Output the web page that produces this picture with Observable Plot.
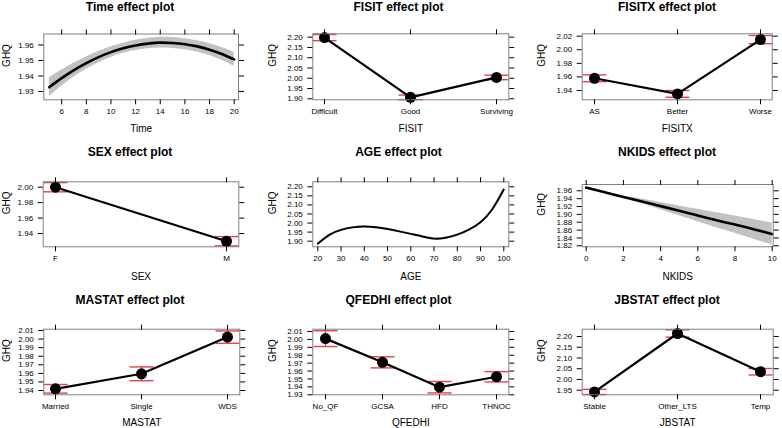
<!DOCTYPE html>
<html><head><meta charset="utf-8">
<script src="https://cdn.jsdelivr.net/npm/d3@7"></script>
<script src="https://cdn.jsdelivr.net/npm/@observablehq/plot@0.6"></script>
<style>
body{margin:0;background:#fff;}
#root{position:relative;width:782px;height:428px;overflow:hidden;font-family:"Liberation Sans",Arial,Helvetica,sans-serif;background:#fff;}
.cell{position:absolute;}
.title{position:absolute;font-weight:bold;font-size:12px;line-height:12px;transform:translateX(-50%);white-space:nowrap;color:#000;}
</style></head><body><div id="root"></div>
<script>
// ---------- data ----------
const timeX     = [5,6,7,8,9,10,11,12,13,14,15,16,17,18,19,20];
const timeFit   = [1.9328,1.9386,1.9438,1.9483,1.9522,1.9554,1.9579,1.9597,1.9609,1.9615,1.9613,1.9605,1.9591,1.9570,1.9542,1.9507];
const timeLower = [1.9268,1.9334,1.9393,1.9443,1.9486,1.9520,1.9546,1.9564,1.9575,1.9580,1.9578,1.9570,1.9555,1.9532,1.9501,1.9462];
const timeUpper = [1.9388,1.9438,1.9483,1.9523,1.9558,1.9588,1.9612,1.9630,1.9643,1.9650,1.9648,1.9640,1.9627,1.9608,1.9583,1.9552];
const timeTicksX = [6,8,10,12,14,16,18,20];
const timeTicksY = [1.93,1.94,1.95,1.96];

const fisitCats  = ["Difficult","Good","Surviving"];
const fisitFit   = [2.198,1.907,2.004];
const fisitLower = [2.183,1.896,1.993];
const fisitUpper = [2.213,1.918,2.015];
const fisitTicksY = [1.90,1.95,2.00,2.05,2.10,2.15,2.20];

const fisitxCats  = ["AS","Better","Worse"];
const fisitxFit   = [1.958,1.935,2.015];
const fisitxLower = [1.953,1.930,2.009];
const fisitxUpper = [1.963,1.940,2.021];
const fisitxTicksY = [1.94,1.96,1.98,2.00,2.02];

const sexCats  = ["F","M"];
const sexFit   = [2.000,1.930];
const sexLower = [1.994,1.924];
const sexUpper = [2.006,1.936];
const sexTicksY = [1.94,1.96,1.98,2.00];

const ageX     = [20,25,30,35,40,45,50,55,60,65,70,75,80,85,90,95,100];
const ageFit   = [1.886,1.935,1.962,1.976,1.981,1.977,1.967,1.954,1.940,1.926,1.914,1.919,1.936,1.964,2.005,2.075,2.185];
const ageLower = [1.880,1.931,1.959,1.973,1.978,1.974,1.964,1.951,1.937,1.923,1.911,1.916,1.933,1.961,2.001,2.068,2.172];
const ageUpper = [1.892,1.939,1.965,1.979,1.984,1.980,1.970,1.957,1.943,1.929,1.917,1.922,1.939,1.967,2.009,2.082,2.198];
const ageTicksX = [20,30,40,50,60,70,80,90,100];
const ageTicksY = [1.90,1.95,2.00,2.05,2.10,2.15,2.20];

const nkidsX     = [0,1,2,3,4,5,6,7,8,9,10];
const nkidsFit   = [1.968,1.956,1.944,1.933,1.921,1.909,1.897,1.885,1.874,1.862,1.850];
const nkidsLower = [1.966,1.954,1.941,1.927,1.912,1.8965,1.881,1.866,1.852,1.837,1.822];
const nkidsUpper = [1.970,1.958,1.947,1.939,1.930,1.9215,1.913,1.904,1.896,1.887,1.878];
const nkidsTicksX = [0,2,4,6,8,10];
const nkidsTicksY = [1.82,1.84,1.86,1.88,1.90,1.92,1.94,1.96];

const mastatCats  = ["Married","Single","WDS"];
const mastatFit   = [1.942,1.9595,2.0023];
const mastatLower = [1.937,1.9515,1.9950];
const mastatUpper = [1.947,1.9675,2.0095];
const mastatTicksY = [1.94,1.95,1.96,1.97,1.98,1.99,2.00,2.01];

const qfedhiCats  = ["No_QF","GCSA","HFD","THNOC"];
const qfedhiFit   = [2.001,1.971,1.9396,1.9528];
const qfedhiLower = [1.991,1.964,1.9324,1.9463];
const qfedhiUpper = [2.011,1.978,1.9468,1.9593];
const qfedhiTicksY = [1.93,1.94,1.95,1.96,1.97,1.98,1.99,2.00,2.01];

const jbstatCats  = ["Stable","Other_LTS","Temp"];
const jbstatFit   = [1.942,2.214,2.036];
const jbstatLower = [1.930,2.197,2.021];
const jbstatUpper = [1.954,2.231,2.051];
const jbstatTicksY = [1.95,2.00,2.05,2.10,2.15,2.20];

// ---------- layout ----------
const RED = "#e3434d";
const FONT = '"Liberation Sans",Arial,Helvetica,sans-serif';
const capSymbol = {draw(ctx){ ctx.moveTo(-12,0); ctx.lineTo(12,0); }};
const f2 = d3.format(".2f");
const blank = () => "";

function numTable(xs, fit, lo, hi){ return xs.map((x,i)=>({x, fit:fit[i], lo:lo[i], hi:hi[i]})); }

function panel(p){
  const [bx,by,W,H] = p.box;
  const [mt,mr,mb,ml] = p.margin;
  const marks = [];
  let xScale;
  if (p.kind === "num") {
    const t = numTable(p.xs, p.fit, p.lo, p.hi);
    xScale = {type:"linear", domain:p.xDomain};
    marks.push(Plot.areaY(t, {x:"x", y1:"lo", y2:"hi", fill:p.bandFill, curve:"natural"}));
    marks.push(Plot.line(t, {x:"x", y:"fit", stroke:"#000", strokeWidth:p.lineWidth || 2.6, curve:"natural"}));
  } else {
    const t = p.cats.map((c,i)=>({x:c, fit:p.fit[i], lo:p.lo[i], hi:p.hi[i]}));
    xScale = {type:"point", domain:p.cats, padding:0, inset:12};
    marks.push(Plot.ruleX(t, {x:"x", y1:"lo", y2:"hi", stroke:RED, strokeWidth:1.3}));
    marks.push(Plot.dot(t, {x:"x", y:"lo", symbol:capSymbol, r:1, stroke:RED, strokeWidth:1.4, fill:"none"}));
    marks.push(Plot.dot(t, {x:"x", y:"hi", symbol:capSymbol, r:1, stroke:RED, strokeWidth:1.4, fill:"none"}));
    marks.push(Plot.line(t, {x:"x", y:"fit", stroke:"#000", strokeWidth:2.2}));
    marks.push(Plot.dot(t, {x:"x", y:"fit", r:5.5, fill:"#000", stroke:"none"}));
  }
  const xt = p.kind === "num" ? p.xTicks : p.cats;
  marks.push(Plot.frame({stroke:"#808080", strokeWidth:1}));
  marks.push(Plot.axisX({ticks:xt, anchor:"bottom", tickSize:5, tickPadding:4, fontSize:8, label:null, stroke:"#000", fill:"#000"}));
  marks.push(Plot.axisX({ticks:xt, anchor:"top", tickSize:5, tickFormat:blank, label:null, stroke:"#000"}));
  marks.push(Plot.axisY({ticks:p.yTicks, anchor:"left", tickSize:5, tickPadding:5, tickFormat:f2, fontSize:8, label:null, stroke:"#000", fill:"#000"}));
  marks.push(Plot.axisY({ticks:p.yTicks, anchor:"right", tickSize:5, tickFormat:blank, label:null, stroke:"#000"}));
  marks.push(Plot.text([p.xLabel], {frameAnchor:"bottom", dy:p.xLabelDy, fontSize:10, fill:"#000"}));
  marks.push(Plot.text(["GHQ"], {frameAnchor:"left", dx:-Math.min(40, ml - 6.5), rotate:-90, fontSize:10, fill:"#000"}));

  const svg = Plot.plot({
    width:W, height:H,
    marginTop:mt, marginRight:mr, marginBottom:mb, marginLeft:ml,
    x:xScale,
    y:{type:"linear", domain:p.yDomain},
    style:{fontFamily:FONT, fontSize:"8px", background:"transparent", color:"#000", overflow:"visible"},
    marks
  });
  const cell = document.createElement("div");
  cell.className = "cell";
  cell.style.left = bx+"px"; cell.style.top = by+"px";
  cell.appendChild(svg);
  document.getElementById("root").appendChild(cell);

  const title = document.createElement("div");
  title.className = "title";
  title.textContent = p.title;
  title.style.left = p.titleX+"px";
  title.style.top = p.titleTop+"px";
  document.getElementById("root").appendChild(title);
}

const colTitleX = [130, 398.5, 667];
const rowTitleTop = [0.8, 146.4, 294.4];

panel({kind:"num", title:"Time effect plot", titleX:colTitleX[0], titleTop:rowTitleTop[0],
  box:[0,0,261,143], margin:[33.5,23,43.7,43.3], xDomain:[4.55,20.35], yDomain:[1.9246,1.9671],
  xs:timeX, fit:timeFit, lo:timeLower, hi:timeUpper, bandFill:"#c2c2c2",
  xTicks:timeTicksX, yTicks:timeTicksY, xLabel:"Time", xLabelDy:32.5});
panel({kind:"cat", title:"FISIT effect plot", titleX:colTitleX[1], titleTop:rowTitleTop[0],
  box:[261,0,260,143], margin:[33.3,12.7,43.7,51.3], yDomain:[1.895,2.2165],
  cats:fisitCats, fit:fisitFit, lo:fisitLower, hi:fisitUpper, yTicks:fisitTicksY, xLabel:"FISIT", xLabelDy:32.5});
panel({kind:"cat", title:"FISITX effect plot", titleX:colTitleX[2], titleTop:rowTitleTop[0],
  box:[521,0,261,143], margin:[33.3,10.3,43.7,60.7], yDomain:[1.9263,2.0235],
  cats:fisitxCats, fit:fisitxFit, lo:fisitxLower, hi:fisitxUpper, yTicks:fisitxTicksY, xLabel:"FISITX", xLabelDy:32.5});

panel({kind:"cat", title:"SEX effect plot", titleX:colTitleX[0], titleTop:rowTitleTop[1],
  box:[0,143,261,143], margin:[38.3,22.7,39.7,42.7], yDomain:[1.9228,2.007],
  cats:sexCats, fit:sexFit, lo:sexLower, hi:sexUpper, yTicks:sexTicksY, xLabel:"SEX", xLabelDy:33.5});
panel({kind:"num", title:"AGE effect plot", titleX:colTitleX[1], titleTop:rowTitleTop[1],
  box:[261,143,260,143], margin:[38.3,12.7,39.7,51.3], xDomain:[17.85,102.15], yDomain:[1.869,2.2276],
  xs:ageX, fit:ageFit, lo:ageLower, hi:ageUpper, bandFill:"#cfcfcf", lineWidth:1.9,
  xTicks:ageTicksX, yTicks:ageTicksY, xLabel:"AGE", xLabelDy:33.5});
panel({kind:"num", title:"NKIDS effect plot", titleX:colTitleX[2], titleTop:rowTitleTop[1],
  box:[521,143,261,143], margin:[41,9.3,39.7,60.7], xDomain:[-0.215,10.054], yDomain:[1.8175,1.976],
  xs:nkidsX, fit:nkidsFit, lo:nkidsLower, hi:nkidsUpper, bandFill:"#c2c2c2",
  xTicks:nkidsTicksX, yTicks:nkidsTicksY, xLabel:"NKIDS", xLabelDy:33.5});

panel({kind:"cat", title:"MASTAT effect plot", titleX:colTitleX[0], titleTop:rowTitleTop[2],
  box:[0,286,261,142], margin:[42.7,21.7,33.7,43.3], yDomain:[1.935,2.0115],
  cats:mastatCats, fit:mastatFit, lo:mastatLower, hi:mastatUpper, yTicks:mastatTicksY, xLabel:"MASTAT", xLabelDy:31.5});
panel({kind:"cat", title:"QFEDHI effect plot", titleX:colTitleX[1], titleTop:rowTitleTop[2],
  box:[261,286,260,142], margin:[42.7,12.7,33.7,51.3], yDomain:[1.93,2.0129],
  cats:qfedhiCats, fit:qfedhiFit, lo:qfedhiLower, hi:qfedhiUpper, yTicks:qfedhiTicksY, xLabel:"QFEDHI", xLabelDy:31.5});
panel({kind:"cat", title:"JBSTAT effect plot", titleX:colTitleX[2], titleTop:rowTitleTop[2],
  box:[521,286,261,142], margin:[42.7,9.3,33.7,60.7], yDomain:[1.9286,2.234],
  cats:jbstatCats, fit:jbstatFit, lo:jbstatLower, hi:jbstatUpper, yTicks:jbstatTicksY, xLabel:"JBSTAT", xLabelDy:31.5});
</script>
</body></html>
